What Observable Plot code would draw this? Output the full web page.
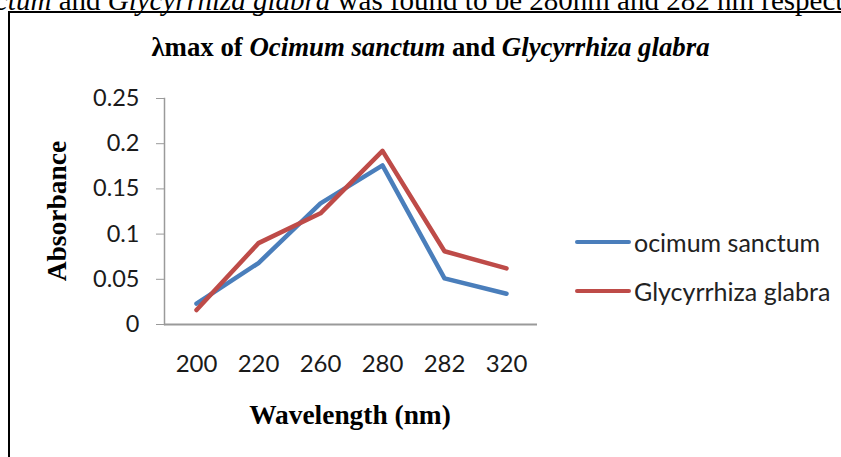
<!DOCTYPE html>
<html>
<head>
<meta charset="utf-8">
<script src="https://cdn.jsdelivr.net/npm/d3@7"></script>
<script src="https://cdn.jsdelivr.net/npm/@observablehq/plot@0.6"></script>
<style>
  html, body { margin: 0; padding: 0; background: #fff; }
  #wrap { position: relative; width: 841px; height: 457px; overflow: hidden; background: #fff; }
  #toptext { position: absolute; left: -5px; top: -14px; font: 29px/29px "Liberation Serif", serif; white-space: nowrap; color: #000; }
  #box { position: absolute; left: 8px; top: 11px; width: 900px; height: 500px; border: 2px solid #000; box-sizing: border-box; }
  #chart { position: absolute; left: 0; top: 0; }
  #title { position: absolute; left: 0; width: 861px; top: 32px; text-align: center; font: bold 26.8px/30px "Liberation Serif", serif; color: #000; }
  #ylab { position: absolute; left: 57px; top: 211px; transform: translate(-50%, -50%) rotate(-90deg); font: bold 27.5px/30px "Liberation Serif", serif; white-space: nowrap; }
  #xlab { position: absolute; left: 350px; top: 415px; transform: translate(-50%, -50%); font: bold 27.4px/30px "Liberation Serif", serif; white-space: nowrap; }
  #legend { position: absolute; left: 575px; top: 217px; font: 25px/28px Lato, sans-serif; color: #222; }
  .item { display: flex; align-items: center; height: 49px; }
  .sw { width: 56px; height: 4px; border-radius: 2px; margin-right: 3px; }
</style>
</head>
<body>
<div id="wrap">
  <div id="toptext"><i>ctum</i> and <i>Glycyrrhiza glabra</i> was found to be 280nm and 282 nm respectively</div>
  <div id="box"></div>
  <div id="chart"></div>
  <div id="title">λmax of <i>Ocimum sanctum</i> and <i>Glycyrrhiza glabra</i></div>
  <div id="ylab">Absorbance</div>
  <div id="xlab">Wavelength (nm)</div>
  <div id="legend"></div>
</div>
<script>
const wavelengths = ["200", "220", "260", "280", "282", "320"];
const ocimum = [0.023, 0.068, 0.134, 0.176, 0.051, 0.034];
const glycyrrhiza = [0.016, 0.090, 0.123, 0.192, 0.081, 0.062];
const seriesNames = ["ocimum sanctum", "Glycyrrhiza glabra"];
const seriesColors = ["#4A7EBB", "#BE4B48"];
const yTicks = [0, 0.05, 0.1, 0.15, 0.2, 0.25];

const rows = [];
wavelengths.forEach((w, i) => {
  rows.push({wl: w, value: ocimum[i], series: seriesNames[0]});
});
wavelengths.forEach((w, i) => {
  rows.push({wl: w, value: glycyrrhiza[i], series: seriesNames[1]});
});

const chart = Plot.plot({
  width: 841,
  height: 457,
  marginLeft: 164,
  marginRight: 304,
  marginTop: 98,
  marginBottom: 133,
  style: {background: "transparent", fontFamily: "Lato, sans-serif"},
  x: {type: "point", domain: wavelengths, padding: 0.5, align: 0.5},
  y: {domain: [0, 0.25]},
  color: {domain: seriesNames, range: seriesColors},
  marks: [
    Plot.axisY({ticks: yTicks, tickSize: 8, tickPadding: 17, stroke: "#9a9a9a", fill: "#1a1a1a", fontSize: 23.5, tickFormat: d => String(+d.toFixed(2)), label: null}),
    Plot.axisX({tickSize: 0, tickPadding: 30, fill: "#1a1a1a", fontSize: 24, label: null}),
    Plot.frame({anchor: "left", stroke: "#9a9a9a", strokeWidth: 1.5}),
    Plot.ruleY([0], {stroke: "#9a9a9a", strokeWidth: 2}),
    Plot.line(rows, {x: "wl", y: "value", z: "series", stroke: "series", strokeWidth: 4.5, strokeLinejoin: "round", strokeLinecap: "round"})
  ]
});
document.getElementById("chart").appendChild(chart);

const legend = document.getElementById("legend");
seriesNames.forEach((name, i) => {
  const item = document.createElement("div");
  item.className = "item";
  const sw = document.createElement("span");
  sw.className = "sw";
  sw.style.background = seriesColors[i];
  const label = document.createElement("span");
  label.textContent = name;
  item.appendChild(sw);
  item.appendChild(label);
  legend.appendChild(item);
});
</script>
</body>
</html>
